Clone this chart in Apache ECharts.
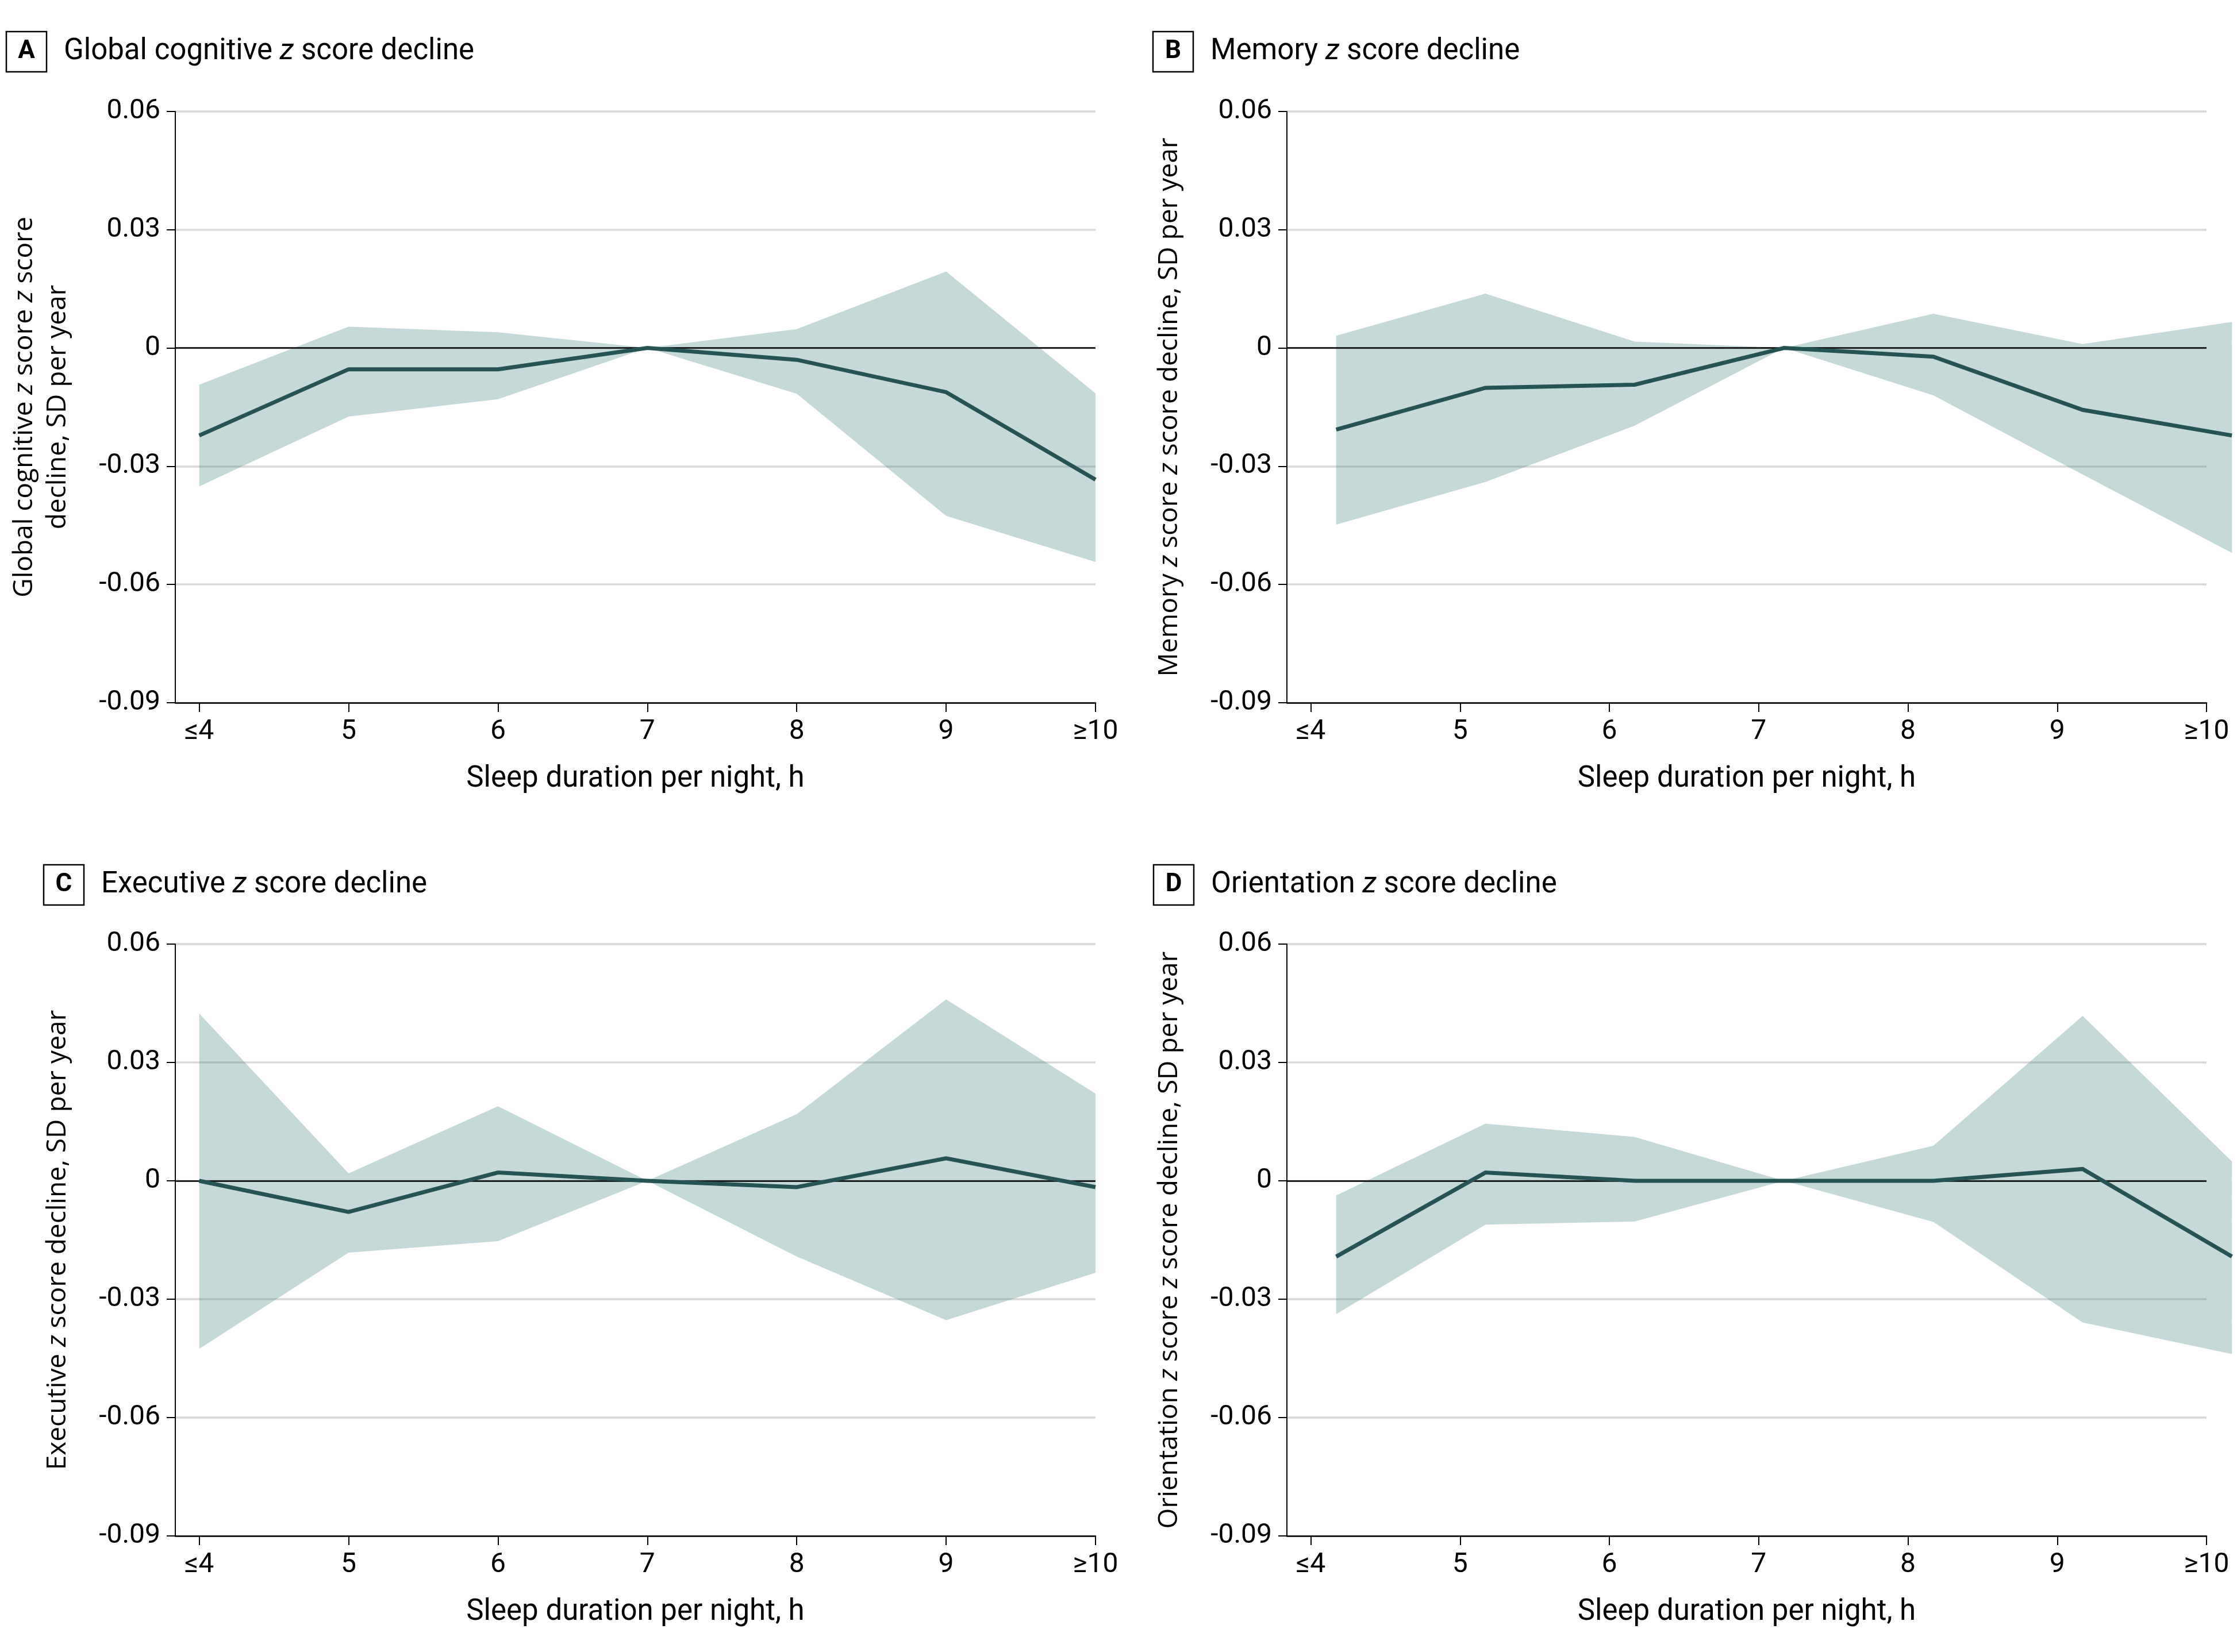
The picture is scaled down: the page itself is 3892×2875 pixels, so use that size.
<!DOCTYPE html>
<html><head><meta charset="utf-8">
<script src="https://cdn.jsdelivr.net/npm/echarts@6/dist/echarts.min.js"></script>
<style>html,body{margin:0;padding:0;background:#fff}#c{width:3892px;height:2875px}</style>
</head><body><div id="c"></div>
<script>
// ---- data ----
const hourTicks = [4, 5, 6, 7, 8, 9, 10];
const hourLabels = ['≤4', '5', '6', '7', '8', '9', '≥10'];
const xCentered = [4, 5, 6, 7, 8, 9, 10];
const xShifted = [4.17, 5.17, 6.17, 7.17, 8.17, 9.17, 10.17];

const globalEst   = [-0.0222, -0.0054, -0.0054, 0, -0.0030, -0.0112, -0.0334];
const globalUpper = [-0.0093,  0.0054,  0.0040, 0,  0.0048,  0.0194, -0.0115];
const globalLower = [-0.0351, -0.0174, -0.0130, 0, -0.0116, -0.0426, -0.0543];

const memoryEst   = [-0.0207, -0.0101, -0.0093, 0, -0.0022, -0.0157, -0.0222];
const memoryUpper = [ 0.0031,  0.0138,  0.0016, 0,  0.0087,  0.0010,  0.0066];
const memoryLower = [-0.0448, -0.0340, -0.0197, 0, -0.0120, -0.0321, -0.0520];

const execEst   = [0, -0.0079, 0.0021, 0, -0.0016, 0.0057, -0.0016];
const execUpper = [0.0424, 0.0019, 0.0189, 0, 0.0169, 0.0460, 0.0221];
const execLower = [-0.0426, -0.0182, -0.0153, 0, -0.0192, -0.0353, -0.0233];

const orientEst   = [-0.0192, 0.0021, 0, 0, 0, 0.0030, -0.0192];
const orientUpper = [-0.0037, 0.0145, 0.0111, 0, 0.0089, 0.0418, 0.0049];
const orientLower = [-0.0338, -0.0111, -0.0103, 0, -0.0104, -0.0359, -0.0439];

const panelLetters = ['A', 'B', 'C', 'D'];
const panelTitles = [
  ['Global cognitive ', ' score decline'],
  ['Memory ', ' score decline'],
  ['Executive ', ' score decline'],
  ['Orientation ', ' score decline']
];
const yNames = [
  'Global cognitive {i|z} score {i|z} score\ndecline, SD per year',
  'Memory {i|z} score {i|z} score decline, SD per year',
  'Executive {i|z} score decline, SD per year',
  'Orientation {i|z} score {i|z} score decline, SD per year'
];
const xName = 'Sleep duration per night, h';

// ---- layout / style ----
const LINE = '#265353';
const BAND = 'rgba(51,120,120,0.28)';
const GRIDC = '#d9d9d9';
const TICKF = 'Roboto';
const X_MIN = 3.84, X_MAX = 10;
const Y_MIN = -0.09, Y_MAX = 0.06;
const panels = [
  {grid: {left: 305, top: 194, width: 1601, height: 1029}, x: xCentered, est: globalEst, up: globalUpper, lo: globalLower, title: {left: 11, top: 55}},
  {grid: {left: 2239, top: 194, width: 1600, height: 1029}, x: xShifted, est: memoryEst, up: memoryUpper, lo: memoryLower, title: {left: 2006, top: 55}},
  {grid: {left: 305, top: 1643, width: 1601, height: 1030}, x: xCentered, est: execEst, up: execUpper, lo: execLower, title: {left: 76, top: 1505}},
  {grid: {left: 2239, top: 1643, width: 1600, height: 1030}, x: xShifted, est: orientEst, up: orientUpper, lo: orientLower, title: {left: 2007, top: 1505}}
];

const grids = [], xAxes = [], yAxes = [], series = [], titles = [];

function bandRender(params, api) {
  if (params.dataIndexInside !== 0) return null;
  const n = params.dataInsideLength;
  const pts = [];
  for (let j = 0; j < n; j++) pts.push(api.coord([api.value(0, j), api.value(1, j)]));
  for (let j = n - 1; j >= 0; j--) pts.push(api.coord([api.value(0, j), api.value(2, j)]));
  return {type: 'polygon', shape: {points: pts}, style: {fill: BAND}, silent: true};
}

panels.forEach((p, i) => {
  grids.push(Object.assign({containLabel: false}, p.grid));
  xAxes.push({
    type: 'value', gridIndex: i, min: X_MIN, max: X_MAX,
    axisLine: {show: true, onZero: false, lineStyle: {color: '#000', width: 2.5}},
    axisTick: {show: true, customValues: hourTicks, length: 16, lineStyle: {color: '#000', width: 2}},
    axisLabel: {customValues: hourTicks, formatter: v => hourLabels[hourTicks.indexOf(Math.round(v))],
      fontFamily: TICKF, fontSize: 48, color: '#000', margin: 27},
    splitLine: {show: false},
    name: xName, nameLocation: 'middle', nameGap: 108,
    nameTextStyle: {fontFamily: TICKF, fontSize: 51, color: '#000'}
  });
  yAxes.push({
    type: 'value', gridIndex: i, min: Y_MIN, max: Y_MAX, interval: 0.03,
    axisLine: {show: true, lineStyle: {color: '#000', width: 2}},
    axisTick: {show: true, length: 15, lineStyle: {color: '#000', width: 2}},
    axisLabel: {formatter: v => Math.abs(v) < 1e-9 ? '0' : v.toFixed(2),
      fontFamily: TICKF, fontSize: 48, color: '#000', margin: 26},
    splitLine: {show: true, lineStyle: {color: GRIDC, width: 3.5}},
    name: yNames[i], nameLocation: 'middle', nameGap: 175,
    nameTextStyle: {fontFamily: 'Open Sans', fontSize: 46, lineHeight: 58, color: '#000', align: 'center',
      rich: {i: {fontFamily: 'Open Sans', fontSize: 46, lineHeight: 58, fontStyle: 'italic', color: '#000'}}}
  });
  titles.push({
    left: p.title.left, top: p.title.top, padding: 0,
    text: '{box|' + panelLetters[i] + '}{sp|}{t|' + panelTitles[i][0] + '}{ti|z}{t|' + panelTitles[i][1] + '}',
    textStyle: {fontWeight: 'normal', rich: {
      box: {width: 70, height: 70, lineHeight: 70, align: 'center', verticalAlign: 'middle',
        borderColor: '#000', borderWidth: 2.5, fontFamily: TICKF, fontWeight: 'bold', fontSize: 44, color: '#000'},
      sp: {width: 30},
      t: {fontFamily: TICKF, fontSize: 51, fontWeight: 'normal', color: '#000'},
      ti: {fontFamily: TICKF, fontSize: 51, fontWeight: 'normal', fontStyle: 'italic', color: '#000'}
    }}
  });
});

// Data-drawing axes: same scale as the visible ones, but extended to the
// last data x so that shifted points (B, D) reach past the visible axis end.
panels.forEach((p, i) => {
  const dataMax = Math.max(X_MAX, p.x[p.x.length - 1]);
  const g = p.grid;
  grids.push({left: g.left, top: g.top, height: g.height,
    width: g.width * (dataMax - X_MIN) / (X_MAX - X_MIN), containLabel: false});
  const gi = grids.length - 1;
  xAxes.push({type: 'value', gridIndex: gi, min: X_MIN, max: dataMax, show: false,
    axisLine: {onZero: false}, splitLine: {show: false}});
  yAxes.push({type: 'value', gridIndex: gi, min: Y_MIN, max: Y_MAX, interval: 0.03, show: false,
    splitLine: {show: false}});
  series.push({
    type: 'custom', xAxisIndex: gi, yAxisIndex: gi, clip: false, z: 1, silent: true,
    data: p.x.map((v, k) => [v, p.up[k], p.lo[k]]),
    encode: {x: 0, y: [1, 2]},
    renderItem: bandRender
  });
  series.push({
    type: 'line', xAxisIndex: i, yAxisIndex: i, data: [], silent: true, z: 3,
    markLine: {silent: true, symbol: 'none', z: 3, animation: false, label: {show: false},
      lineStyle: {color: '#000', width: 2.5, type: 'solid'}, data: [{yAxis: 0}]}
  });
  series.push({
    type: 'line', xAxisIndex: gi, yAxisIndex: gi,
    data: p.x.map((v, k) => [v, p.est[k]]), symbol: 'none', showSymbol: false,
    lineStyle: {color: LINE, width: 7, join: 'miter'}, silent: true, clip: false, z: 4
  });
});

const chart = echarts.init(document.getElementById('c'), null, {renderer: 'canvas', width: 3892, height: 2875});
chart.setOption({
  animation: false,
  backgroundColor: '#fff',
  title: titles,
  grid: grids,
  xAxis: xAxes,
  yAxis: yAxes,
  series: series
});
</script>
</body></html>
